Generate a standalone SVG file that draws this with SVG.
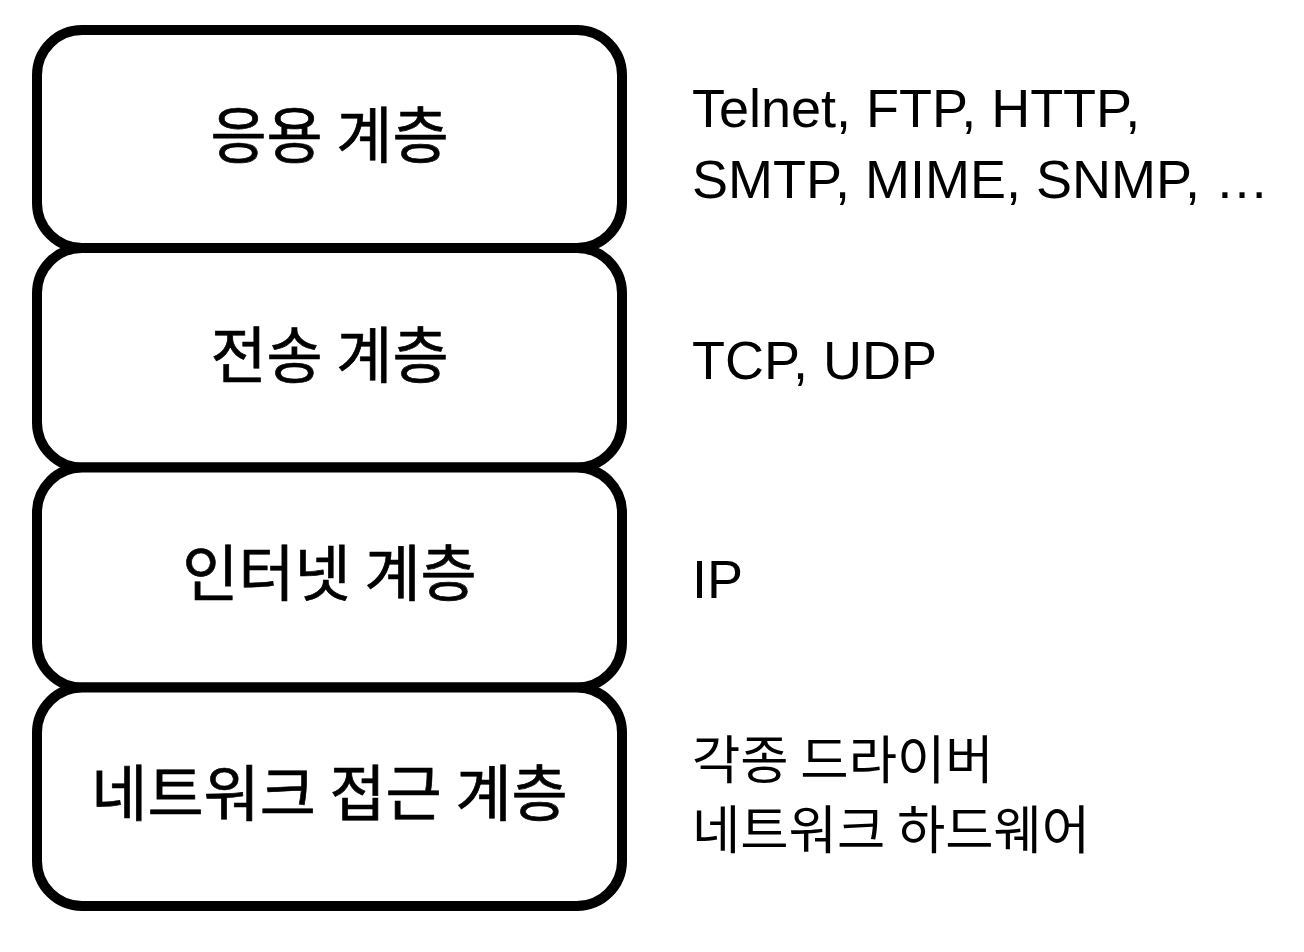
<svg xmlns="http://www.w3.org/2000/svg" width="1304" height="952" viewBox="0 0 1304 952">
<style>
.box{fill:#fff;stroke:#000;stroke-width:10}
.lbl{font-family:"Noto Sans CJK KR","Liberation Sans",sans-serif;font-size:61px;font-weight:400;text-anchor:middle;fill:#000;stroke:#000;stroke-width:0.7}
.en{font-family:"Liberation Sans",Arial,sans-serif;font-size:54px;fill:#000}
.ko{font-family:"Noto Sans CJK KR","Liberation Sans",sans-serif;font-size:52.5px;fill:#000}
</style>
<rect width="1304" height="952" fill="#fff"/>
<g id="connectors"></g>
<g id="app">
<rect class="box" x="37" y="30" width="585" height="218" rx="45"/>
<text class="lbl" x="329.5" y="158">응용 계층</text>
</g>
<g id="transport">
<rect class="box" x="37" y="248" width="585" height="219.5" rx="45"/>
<text class="lbl" x="329.5" y="378">전송 계층</text>
</g>
<g id="internet">
<rect class="box" x="37" y="467.5" width="585" height="220" rx="45"/>
<text class="lbl" x="329.5" y="596">인터넷 계층</text>
</g>
<g id="netaccess">
<rect class="box" x="37" y="687.5" width="585" height="218.5" rx="45"/>
<text class="lbl" x="329.5" y="816">네트워크 접근 계층</text>
</g>
<g id="app-protocols">
<text class="en" x="692" y="127">Telnet, FTP, HTTP,</text>
<text class="en" x="692" y="198">SMTP, MIME, SNMP, …</text>
</g>
<g id="transport-protocols">
<text class="en" x="692" y="379">TCP, UDP</text>
</g>
<g id="internet-protocols">
<text class="en" x="692" y="598">IP</text>
</g>
<g id="netaccess-items">
<text class="ko" x="692" y="779">각종 드라이버</text>
<text class="ko" x="692" y="849">네트워크 하드웨어</text>
</g>
</svg>
